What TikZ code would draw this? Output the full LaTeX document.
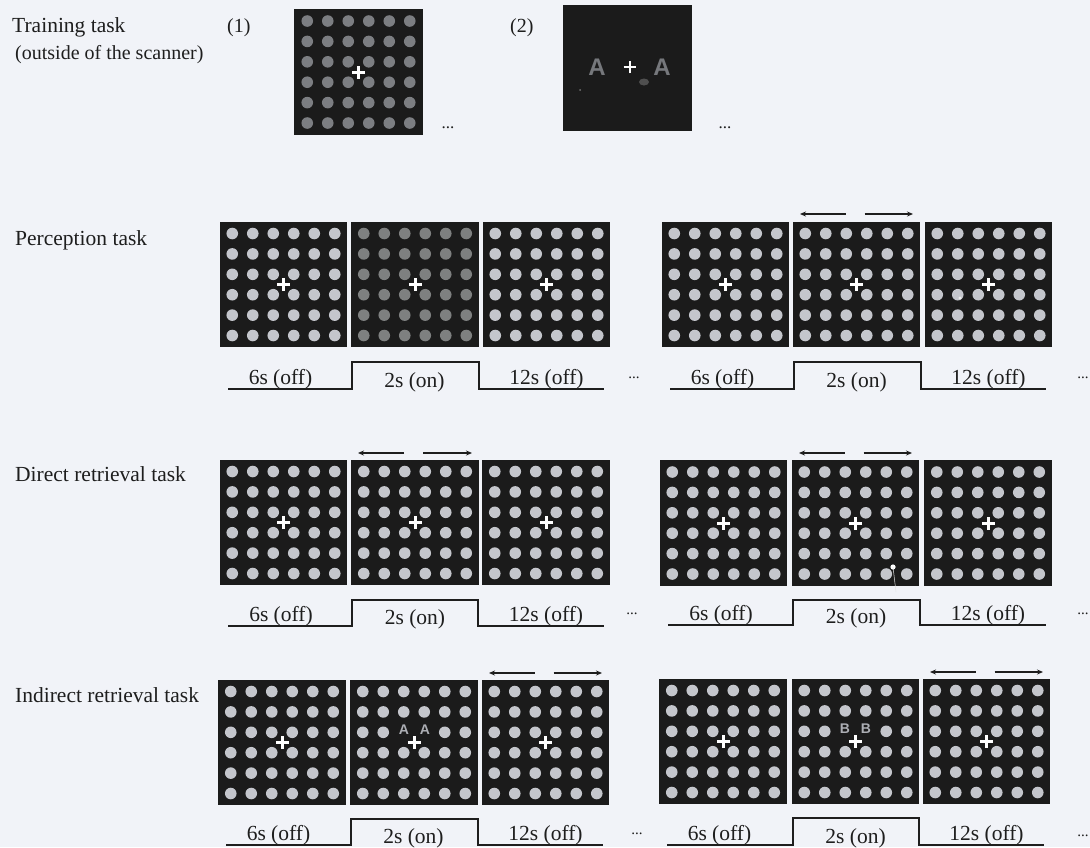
\documentclass[tikz,border=0pt]{standalone}
\usepackage{fontspec}
\setmainfont{Liberation Serif}
\newfontfamily\lsans{Liberation Sans}
\usetikzlibrary{arrows.meta}
\definecolor{bgc}{RGB}{241,243,248}
\definecolor{panelc}{RGB}{27,27,27}
\definecolor{dotc}{RGB}{196,198,204}
\definecolor{dimdot}{RGB}{126,128,128}
\definecolor{trdot}{RGB}{124,126,130}
\definecolor{inkc}{RGB}{30,30,30}
\definecolor{letc}{RGB}{118,120,124}
\definecolor{sletc}{RGB}{172,174,180}
\tikzset{
 panel/.style={fill=panelc, draw=none, inner sep=0pt, anchor=north west},
 tline/.style={draw=inkc, line width=1.7pt, line join=miter},
 arr/.style={draw=inkc, line width=1.2pt, -{Stealth[length=6pt,width=5pt]}},
 lbl/.style={text=inkc, font=\fontsize{21.5}{24}\selectfont, anchor=base west, inner sep=0pt},
 tlbl/.style={text=inkc, font=\fontsize{21.5}{24}\selectfont, anchor=base, inner sep=0pt},
 ell/.style={text=inkc, font=\fontsize{15}{18}\selectfont, anchor=base, inner sep=0pt},
 bigA/.style={text=letc, font=\lsans\bfseries\fontsize{24}{24}\selectfont, inner sep=0pt},
 smallA/.style={text=sletc, font=\lsans\bfseries\fontsize{14}{14}\selectfont, inner sep=0pt},
}
% name, left, top, width, height, dot colour
\newcommand{\stim}[6]{%
 \node[panel, minimum width=#4pt, minimum height=#5pt] (#1) at (#2,#3) {};
 \foreach \i in {0,...,5}{\foreach \j in {0,...,5}{
   \fill[#6] ({#2+#4/2+(\i-2.5)*20.5},{#3+#5/2+(\j-2.5)*20.4}) circle (5.8pt);}}
}
% white fixation cross at a point
\newcommand{\fixcross}[1]{%
 \draw[white, line width=2.6pt] ([xshift=-6.3pt]#1) -- ([xshift=6.3pt]#1)
   ([yshift=-6.3pt]#1) -- ([yshift=6.3pt]#1);}
% prefix, x1, x2, x3, width, low, high
\newcommand{\timeline}[7]{%
 \draw[tline] ({#2+8},#6) -- ({#3+1},#6) -- ({#3+1},#7) -- ({#4-4},#7) -- ({#4-4},#6) -- ({#4+#5-6},#6);
 \node[tlbl] (#1off1) at ({#2+#5/2-3},{#6-5}) {6s (off)};
 \node[tlbl] (#1on) at ({#3+#5/2},{#6-2}) {2s (on)};
 \node[tlbl] (#1off2) at ({#4+#5/2},{#6-5}) {12s (off)};
}
% motion arrows above a panel: left, width, y
\newcommand{\motion}[3]{%
 \draw[arr] ({#1+#2/2-11},#3) -- ({#1+7},#3);
 \draw[arr] ({#1+#2/2+8},#3) -- ({#1+#2-7},#3);}
\begin{document}
\begin{tikzpicture}[x=1pt,y=-1pt]
\fill[bgc] (0,0) rectangle (1090,847);
\clip (0,0) rectangle (1090,847);

% ---------- Training task ----------
\node[lbl] (train) at (12,32) {Training task};
\node[lbl, font=\fontsize{20}{22}\selectfont] (outside) at (15,59) {(outside of the scanner)};
\node[lbl, font=\fontsize{20}{22}\selectfont] (one) at (227,32) {(1)};
\node[lbl, font=\fontsize{20}{22}\selectfont] (two) at (510,32) {(2)};
\stim{tr1}{294}{9}{129}{126}{trdot}
\fixcross{tr1.center}
\node[panel, minimum width=129pt, minimum height=126pt] (tr2) at (563,5) {};
\fill[black!55, opacity=.6] (644,82) ellipse (5pt and 3.5pt);
\fill[black!55] (580,90) circle (1pt);
\node[bigA] (trA1) at (597,67) {A};
\node[bigA] (trA2) at (662,67) {A};
\fixcross{630,67}
\node[ell, font=\fontsize{17}{18}\selectfont] (trd1) at (448,128) {...};
\node[ell, font=\fontsize{17}{18}\selectfont] (trd2) at (725,128) {...};

% ---------- Perception task ----------
\node[lbl] (perc) at (15,245) {Perception task};
\stim{pa1}{220}{222}{127}{125}{dotc}
\stim{pa2}{351}{222}{128}{125}{dimdot}
\stim{pa3}{483}{222}{127}{125}{dotc}
\fixcross{pa1.center}\fixcross{pa2.center}\fixcross{pa3.center}
\timeline{pa}{220}{351}{483}{127}{389}{362}
\node[ell] (pad) at (634,378.5) {...};
\stim{pb1}{662}{222}{127}{125}{dotc}
\stim{pb2}{793}{222}{127}{125}{dotc}
\stim{pb3}{925}{222}{127}{125}{dotc}
\fixcross{pb1.center}\fixcross{pb2.center}\fixcross{pb3.center}
\fill[white!85!gray] (960,298) circle (1.6pt);
\motion{793}{127}{214}
\timeline{pb}{662}{793}{925}{127}{389}{362}
\node[ell] (pbd) at (1083,378.5) {...};

% ---------- Direct retrieval task ----------
\node[lbl] (direct) at (15,481) {Direct retrieval task};
\stim{da1}{220}{460}{127}{125}{dotc}
\stim{da2}{351}{460}{128}{125}{dotc}
\stim{da3}{482}{460}{128}{125}{dotc}
\fixcross{da1.center}\fixcross{da2.center}\fixcross{da3.center}
\motion{351}{128}{453}
\timeline{da}{220}{351}{482}{128}{626}{600}
\node[ell] (dad) at (632,614.5) {...};
\stim{db1}{660}{460}{127}{126}{dotc}
\stim{db2}{792}{460}{127}{126}{dotc}
\stim{db3}{924}{460}{128}{126}{dotc}
\fixcross{db1.center}\fixcross{db2.center}\fixcross{db3.center}
\fill[white] (893,567) circle (2.6pt);
\draw[white!80!gray, line width=0.5pt] (893,567) -- (896,592);
\motion{792}{127}{453}
\timeline{db}{660}{792}{924}{128}{625}{600}
\node[ell] (dbd) at (1083,614.5) {...};

% ---------- Indirect retrieval task ----------
\node[lbl] (indirect) at (15,702) {Indirect retrieval task};
\stim{ia1}{218}{680}{128}{125}{dotc}
\stim{ia2}{350}{680}{128}{125}{dotc}
\stim{ia3}{482}{680}{127}{125}{dotc}
\fill[panelc] (403.75,732.3) circle (6.5pt) (424.25,732.3) circle (6.5pt);
\node[smallA] (iaA1) at (404,729.5) {A};
\node[smallA] (iaA2) at (425,729.5) {A};
\fixcross{ia1.center}\fixcross{ia2.center}\fixcross{ia3.center}
\motion{482}{127}{673}
\timeline{ia}{218}{350}{482}{127}{845}{819}
\node[ell] (iad) at (637,834.5) {...};
\stim{ib1}{659}{679}{128}{125}{dotc}
\stim{ib2}{792}{679}{127}{125}{dotc}
\stim{ib3}{923}{679}{127}{125}{dotc}
\fill[panelc] (845.25,731.3) circle (6.5pt) (865.75,731.3) circle (6.5pt);
\node[smallA] (ibB1) at (845,728.5) {B};
\node[smallA] (ibB2) at (866,728.5) {B};
\fixcross{ib1.center}\fixcross{ib2.center}\fixcross{ib3.center}
\motion{923}{127}{672}
\timeline{ib}{659}{792}{923}{127}{845}{818}
\node[ell] (ibd) at (1083,836) {...};
\end{tikzpicture}
\end{document}
